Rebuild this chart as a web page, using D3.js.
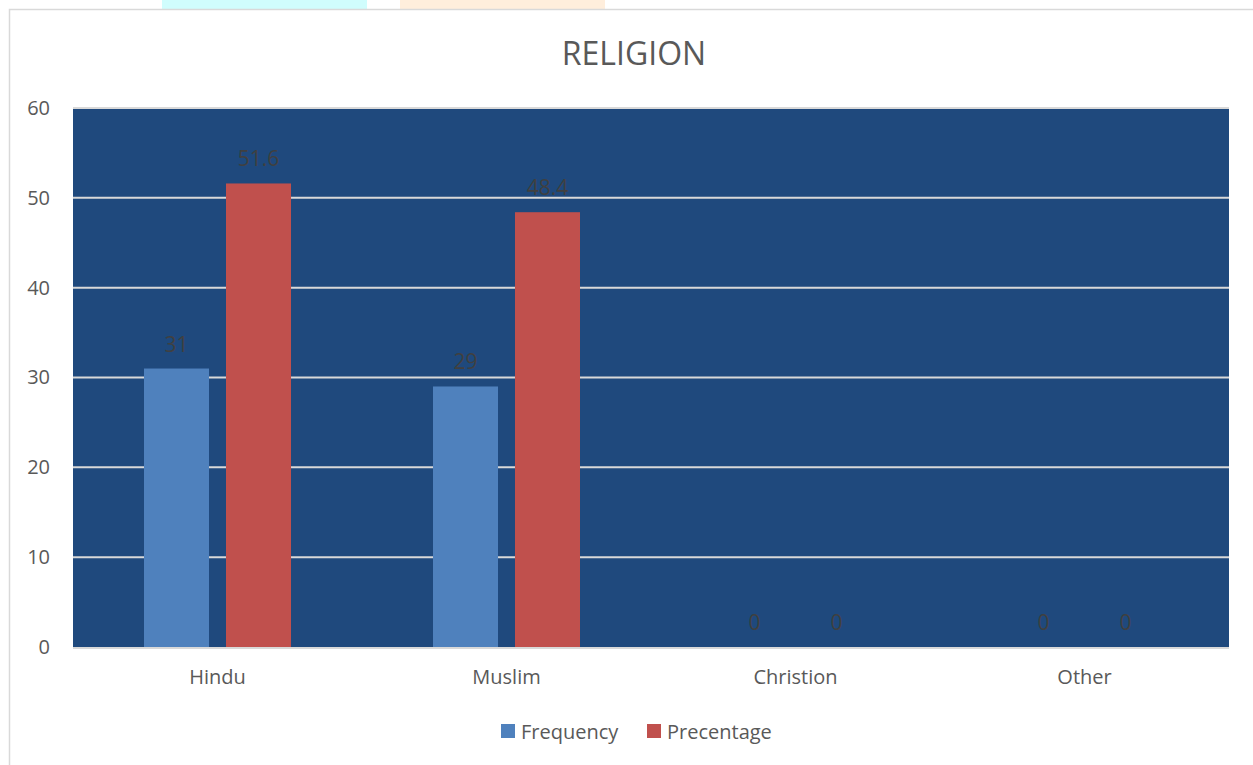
<!DOCTYPE html>
<html>
<head>
<meta charset="utf-8">
<script src="https://cdn.jsdelivr.net/npm/d3@7"></script>
<style>
  html, body { margin: 0; padding: 0; background: #ffffff; }
  svg { display: block; font-family: "Open Sans", "Noto Sans", sans-serif; }
</style>
</head>
<body>
<svg id="chart" width="1253" height="765"></svg>
<script>
const categories = ["Hindu", "Muslim", "Christion", "Other"];
const seriesNames = ["Frequency", "Precentage"];
const frequency = [31, 29, 0, 0];
const percentage = [51.6, 48.4, 0, 0];
const yTicks = [0, 10, 20, 30, 40, 50, 60];
const title = "RELIGION";

const colors = { Frequency: "#4F81BD", Precentage: "#C0504D" };

const svg = d3.select("#chart");
const W = 1253, H = 765;
const plot = { left: 73, right: 1229, top: 108, bottom: 647 };

// faint decorative strips at top (page remnants)
svg.append("rect").attr("x", 162).attr("y", 0).attr("width", 205).attr("height", 9).attr("fill", "#D0FDFD");
svg.append("rect").attr("x", 400).attr("y", 0).attr("width", 205).attr("height", 9).attr("fill", "#FFEEDC");

// outer chart border
svg.append("path")
  .attr("d", `M9.5,${H} L9.5,9.5 L${W},9.5`)
  .attr("fill", "none").attr("stroke", "#D9D9D9").attr("stroke-width", 1.5);

// title
svg.append("text")
  .attr("x", 634).attr("y", 65)
  .attr("text-anchor", "middle")
  .attr("font-size", 32)
  .attr("fill", "#595959")
  .text(title);

const x0 = d3.scaleBand().domain(categories).range([plot.left, plot.right]).paddingInner(0).paddingOuter(0);
const x1 = d3.scaleBand().domain(seriesNames).range([71, 289 - 71]).paddingInner(0.207);
const y = d3.scaleLinear().domain([0, 60]).range([plot.bottom, plot.top]);

// plot background
svg.append("rect")
  .attr("x", plot.left).attr("y", plot.top)
  .attr("width", plot.right - plot.left).attr("height", plot.bottom - plot.top)
  .attr("fill", "#1F497D");

// gridlines
svg.append("g")
  .selectAll("line")
  .data(yTicks.filter(d => d > 0))
  .join("line")
  .attr("x1", plot.left).attr("x2", plot.right)
  .attr("y1", d => y(d)).attr("y2", d => y(d))
  .attr("stroke", "#D9D9D9").attr("stroke-width", 2);

// x axis line
svg.append("line")
  .attr("x1", plot.left).attr("x2", plot.right)
  .attr("y1", plot.bottom + 1).attr("y2", plot.bottom + 1)
  .attr("stroke", "#D9D9D9").attr("stroke-width", 2);

// y axis
const yAxis = d3.axisLeft(y).tickValues(yTicks).tickSize(0).tickPadding(0);
const yg = svg.append("g").attr("transform", `translate(50,0)`).call(yAxis);
yg.select(".domain").remove();
yg.selectAll("text").attr("font-size", 20).attr("fill", "#595959").attr("font-family", "Open Sans");

// x axis
const xAxis = d3.axisBottom(x0).tickSize(0).tickPadding(0);
const xg = svg.append("g").attr("transform", `translate(0,${plot.bottom + 23})`).call(xAxis);
xg.select(".domain").remove();
xg.selectAll("text").attr("font-size", 20).attr("fill", "#595959").attr("font-family", "Open Sans");

// bars
const rows = categories.map((c, i) => ({ cat: c, values: [
  { name: "Frequency", value: frequency[i] },
  { name: "Precentage", value: percentage[i] }
]}));

const groups = svg.append("g").selectAll("g")
  .data(rows).join("g")
  .attr("transform", d => `translate(${x0(d.cat)},0)`);

groups.selectAll("rect")
  .data(d => d.values).join("rect")
  .attr("x", d => x1(d.name))
  .attr("width", x1.bandwidth())
  .attr("y", d => y(d.value))
  .attr("height", d => y(0) - y(d.value))
  .attr("fill", d => colors[d.name]);

groups.selectAll("text")
  .data(d => d.values).join("text")
  .attr("x", d => x1(d.name) + x1.bandwidth() / 2)
  .attr("y", d => y(d.value) - 17)
  .attr("text-anchor", "middle")
  .attr("font-size", 21)
  .attr("fill", "#404040")
  .text(d => d.value);

// legend
const legend = svg.append("g");
const legendItems = [
  { name: "Frequency", x: 501 },
  { name: "Precentage", x: 647 }
];
legendItems.forEach(it => {
  legend.append("rect").attr("x", it.x).attr("y", 724).attr("width", 14).attr("height", 14).attr("fill", colors[it.name]);
  legend.append("text").attr("x", it.x + 20).attr("y", 739)
    .attr("font-size", 20).attr("fill", "#595959").text(it.name);
});
</script>
</body>
</html>
